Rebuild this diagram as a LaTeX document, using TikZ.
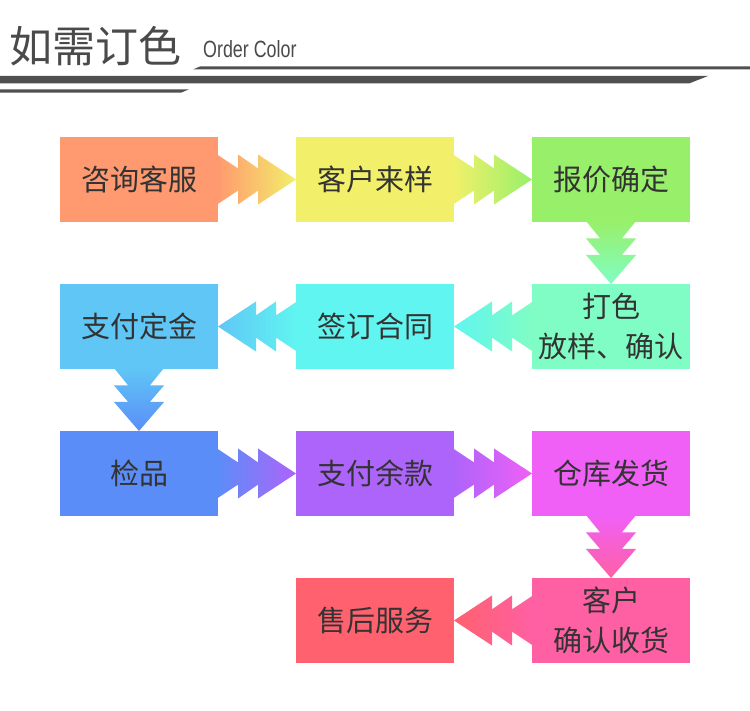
\documentclass[tikz,border=0pt]{standalone}
\usepackage{fontspec}
\newfontfamily\cjk{Noto Sans CJK SC}
\newfontfamily\latfont{Liberation Sans}
\usetikzlibrary{calc}
\definecolor{cA}{HTML}{FF996F}
\definecolor{cB}{HTML}{F2F06A}
\definecolor{cC}{HTML}{98F06A}
\definecolor{cD}{HTML}{80FDC4}
\definecolor{cE}{HTML}{60F5F0}
\definecolor{cF}{HTML}{60C6F6}
\definecolor{cG}{HTML}{5B8DF8}
\definecolor{cH}{HTML}{AD64FA}
\definecolor{cI}{HTML}{F060F6}
\definecolor{cJ}{HTML}{FF60A3}
\definecolor{cK}{HTML}{FF616E}
\definecolor{txt}{HTML}{333333}
\definecolor{hdr}{HTML}{505050}
\definecolor{ttl}{HTML}{4A4A4A}
\newcommand\arrR[4]{%
  \shade[left color=#3, right color=#4]
    ($(#1.east)+(-1,25)$) -- ($(#1.east)+(20,11.1)$) -- ($(#1.east)+(20,25)$) --
    ($(#1.east)+(40,11.1)$) -- ($(#1.east)+(40,25)$) -- (#2.west) --
    ($(#1.east)+(40,-25)$) -- ($(#1.east)+(40,-11.1)$) -- ($(#1.east)+(20,-25)$) --
    ($(#1.east)+(20,-11.1)$) -- ($(#1.east)+(-1,-25)$) -- cycle;}
\newcommand\arrL[4]{%
  \shade[right color=#3, left color=#4]
    ($(#1.west)+(1,25)$) -- ($(#1.west)+(-20,11.1)$) -- ($(#1.west)+(-20,25)$) --
    ($(#1.west)+(-40,11.1)$) -- ($(#1.west)+(-40,25)$) -- (#2.east) --
    ($(#1.west)+(-40,-25)$) -- ($(#1.west)+(-40,-11.1)$) -- ($(#1.west)+(-20,-25)$) --
    ($(#1.west)+(-20,-11.1)$) -- ($(#1.west)+(1,-25)$) -- cycle;}
\newcommand\arrD[4]{%
  \shade[top color=#3, bottom color=#4]
    ($(#1.south)+(-25,1)$) -- ($(#1.south)+(-10.8,-16.5)$) -- ($(#1.south)+(-25,-16.5)$) --
    ($(#1.south)+(-10.8,-33)$) -- ($(#1.south)+(-25,-33)$) -- (#2.north) --
    ($(#1.south)+(25,-33)$) -- ($(#1.south)+(10.8,-33)$) -- ($(#1.south)+(25,-16.5)$) --
    ($(#1.south)+(10.8,-16.5)$) -- ($(#1.south)+(25,1)$) -- cycle;}
\begin{document}
\begin{tikzpicture}[x=1pt,y=1pt,
  stepbox/.style={rectangle, minimum width=158pt, minimum height=85pt,
    inner sep=0pt, outer sep=0pt, text=txt, align=center,
    font=\cjk\fontsize{29}{40}\selectfont},
  hdrbar/.style={fill=hdr}]
\useasboundingbox (0,0) rectangle (750,710);
\fill[white] (0,0) rectangle (750,710);
% header
\node[anchor=base west, inner sep=0pt, text=ttl, font=\cjk\fontsize{43}{43}\selectfont] (title) at (9,647) {如需订色};
\node[anchor=base west, inner sep=0pt, text=ttl, font=\latfont\fontsize{23.5}{23.5}\selectfont] (sub) at (203,652) {\scalebox{0.76}[1]{Order Color}};
\fill[hdrbar] (193,640.5) -- (200,643.5) -- (750,643.5) -- (750,640.5) -- cycle;
\fill[hdrbar] (0,634) -- (708,634) -- (689,626.5) -- (0,626.5) -- cycle;
\fill[hdrbar] (0,620.7) -- (189,620.7) -- (181,617.3) -- (0,617.3) -- cycle;
% boxes
\node[stepbox, fill=cA] (n1) at (139,530.5) {咨询客服};
\node[stepbox, fill=cB] (n2) at (375,530.5) {客户来样};
\node[stepbox, fill=cC] (n3) at (611,530.5) {报价确定};
\node[stepbox, fill=cD] (n4) at (611,383.5) {打色\\放样、确认};
\node[stepbox, fill=cE] (n5) at (375,383.5) {签订合同};
\node[stepbox, fill=cF] (n6) at (139,383.5) {支付定金};
\node[stepbox, fill=cG] (n7) at (139,236.5) {检品};
\node[stepbox, fill=cH] (n8) at (375,236.5) {支付余款};
\node[stepbox, fill=cI] (n9) at (611,236.5) {仓库发货};
\node[stepbox, fill=cJ] (n10) at (611,89.5) {客户\\确认收货};
\node[stepbox, fill=cK] (n11) at (375,89.5) {售后服务};
% arrows
\arrR{n1}{n2}{cA}{cB}
\arrR{n2}{n3}{cB}{cC}
\arrD{n3}{n4}{cC}{cD}
\arrL{n4}{n5}{cD}{cE}
\arrL{n5}{n6}{cE}{cF}
\arrD{n6}{n7}{cF}{cG}
\arrR{n7}{n8}{cG}{cH}
\arrR{n8}{n9}{cH}{cI}
\arrD{n9}{n10}{cI}{cJ}
\arrL{n10}{n11}{cJ}{cK}
\end{tikzpicture}
\end{document}
